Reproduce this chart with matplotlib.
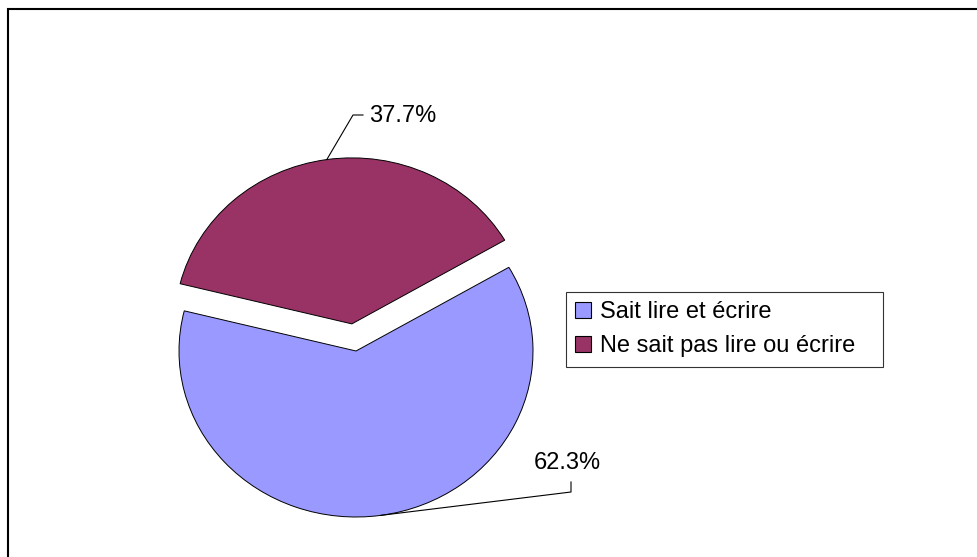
import numpy as np
import matplotlib
matplotlib.use('Agg')
import matplotlib.pyplot as plt
from matplotlib.patches import Rectangle

plt.rcParams['font.family'] = ['Liberation Sans', 'DejaVu Sans']

labels = ['Sait lire et écrire', 'Ne sait pas lire ou écrire']
values = [62.3, 37.7]
colors = ['#9999FF', '#993366']
explode = [0, 0.165]

W, H = 977, 557
fig = plt.figure(figsize=(W / 100, H / 100), dpi=100)

# pixel frame of the pie: centre and radii (ellipse, as in the original)
cx, cy, rx, ry = 356, 351, 177, 166

ax = fig.add_axes([0, 0, 1, 1])
wedges, _ = ax.pie(values, colors=colors, explode=explode, startangle=166,
                   counterclock=True,
                   wedgeprops=dict(edgecolor='black', linewidth=0.7))
ax.set_aspect('auto')
ax.set_xlim(-cx / rx, (W - cx) / rx)
ax.set_ylim((cy - H) / ry, cy / ry)
ax.set_axis_off()

def px(x, y):
    # pixel (from top-left) -> data coordinates
    return (x - cx) / rx, (cy - y) / ry

# leader lines from wedge midpoints
for w, val in zip(wedges, values):
    mid = np.deg2rad((w.theta1 + w.theta2) / 2)
    ox, oy = w.center
    w.anchor = (ox + np.cos(mid), oy + np.sin(mid))

# 37.7 %
a = wedges[1].anchor
e1 = px(353, 115)
e2 = px(363, 115)
ax.plot([a[0], e1[0], e2[0]], [a[1], e1[1], e2[1]], color='black', lw=0.8)
t = px(369, 116)
ax.text(t[0], t[1], f'{values[1]:.1f}%', fontsize=17, ha='left', va='center')

# 62.3 %
a = wedges[0].anchor
e1 = px(571, 492)
e2 = px(571, 482)
ax.plot([a[0], e1[0], e2[0]], [a[1], e1[1], e2[1]], color='black', lw=0.8)
t = px(567, 463)
ax.text(t[0], t[1], f'{values[0]:.1f}%', fontsize=17, ha='center', va='center')

leg = fig.legend(wedges, labels, loc='upper left', mode='expand',
                 bbox_to_anchor=(566 / W, 1 - 292 / H, (883 - 566) / W, 0.0),
                 fontsize=17, frameon=True, fancybox=False,
                 handlelength=0.65, handleheight=0.65, handletextpad=0.4,
                 labelspacing=0.5, borderpad=0.4, borderaxespad=0)
leg.get_frame().set_edgecolor('black')
leg.get_frame().set_linewidth(0.8)
for h in leg.legend_handles:
    h.set_linewidth(0.8)

# outer chart border (right and bottom edges fall outside the image)
fig.patches.append(Rectangle((8 / W, -0.05), 1.2, 1 - 9 / H + 0.05,
                             transform=fig.transFigure, fill=False,
                             edgecolor='black', linewidth=1.5))

fig.savefig('out.png', dpi=100)
